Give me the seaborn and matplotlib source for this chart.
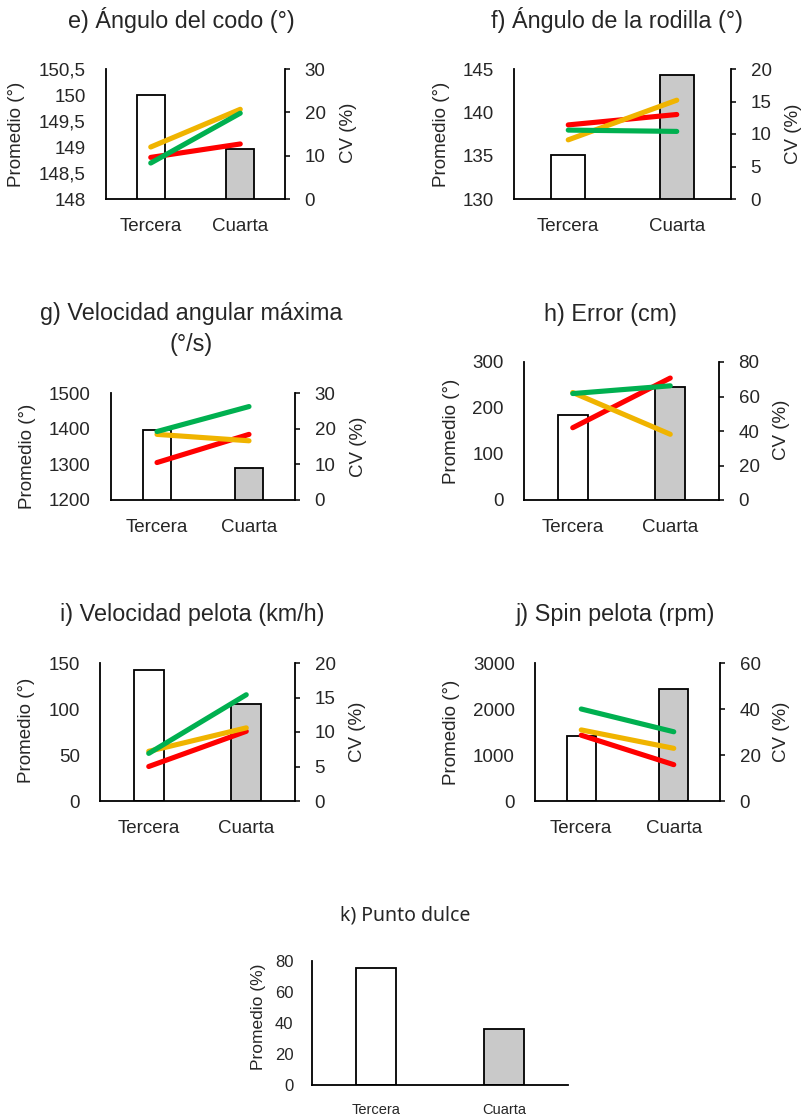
import numpy as np
import matplotlib
matplotlib.use("Agg")
import matplotlib.pyplot as plt
import matplotlib.ticker as mticker
import seaborn as sns

sns.set_style("white")
plt.rcParams['font.family'] = ['Liberation Sans', 'DejaVu Sans']

# ---------------- data ----------------
categories = ["Tercera", "Cuarta"]

titles = {
    "e": "e) Ángulo del codo (°)",
    "f": "f) Ángulo de la rodilla (°)",
    "g": "g) Velocidad angular máxima\n(°/s)",
    "h": "h) Error (cm)",
    "i": "i) Velocidad pelota (km/h)",
    "j": "j) Spin pelota (rpm)",
    "k": "k) Punto dulce",
}

mean_e = [150.0, 148.96]
cv_red_e = [9.6, 12.7]
cv_yellow_e = [12.0, 20.7]
cv_green_e = [8.3, 19.8]

mean_f = [135.1, 144.3]
cv_red_f = [11.4, 13.0]
cv_yellow_f = [9.1, 15.2]
cv_green_f = [10.6, 10.4]

mean_g = [1395, 1291]
cv_red_g = [10.5, 18.4]
cv_yellow_g = [18.4, 16.6]
cv_green_g = [19.2, 26.2]

mean_h = [185.7, 244.7]
cv_red_h = [41.9, 70.7]
cv_yellow_h = [62.3, 38.1]
cv_green_h = [61.7, 66.2]

mean_i = [142.4, 105.3]
cv_red_i = [5.0, 10.1]
cv_yellow_i = [7.2, 10.6]
cv_green_i = [6.9, 15.4]

mean_j = [1409, 2440]
cv_red_j = [28.6, 15.8]
cv_yellow_j = [30.9, 22.9]
cv_green_j = [40.0, 30.1]

mean_k = [75.3, 36.3]

left_ticks = {
    "e": [148, 148.5, 149, 149.5, 150, 150.5],
    "f": [130, 135, 140, 145],
    "g": [1200, 1300, 1400, 1500],
    "h": [0, 100, 200, 300],
    "i": [0, 50, 100, 150],
    "j": [0, 1000, 2000, 3000],
    "k": [0, 20, 40, 60, 80],
}
right_ticks = {
    "e": [0, 10, 20, 30],
    "f": [0, 5, 10, 15, 20],
    "g": [0, 10, 20, 30],
    "h": [0, 20, 40, 60, 80],
    "i": [0, 5, 10, 15, 20],
    "j": [0, 20, 40, 60],
}

# ---------------- layout (pixels) ----------------
W, H = 807, 1117
fig = plt.figure(figsize=(W / 100, H / 100), dpi=100)

def rect(x0, y0, x1, y1):
    return [x0 / W, 1 - y1 / H, (x1 - x0) / W, (y1 - y0) / H]

def fp(x, y):
    return x / W, 1 - y / H

bar_colors = ["#FFFFFF", "#C9C9C9"]
line_colors = {"red": "#FF0000", "yellow": "#F0B400", "green": "#00B050"}

def comma_fmt(v, pos):
    s = ("%g" % v)
    return s.replace(".", ",")

def bars(ax, means, lt, xfs=13.5, yfs=13.5, ypad=14.5, xpad=14):
    pos = np.arange(len(categories))
    sns.barplot(x=pos, y=means, hue=pos, palette=bar_colors, legend=False,
                edgecolor="black", linewidth=1.3, width=0.31, ax=ax,
                native_scale=True, zorder=2)
    ax.set_xlim(-0.5, len(categories) - 0.5)
    ax.set_ylim(lt[0], lt[-1])
    ax.set_yticks(lt)
    ax.yaxis.set_major_formatter(mticker.FuncFormatter(comma_fmt))
    ax.set_xticks(pos)
    ax.set_xticklabels(categories)
    for s in ["top", "right"]:
        ax.spines[s].set_visible(False)
    for s in ["left", "bottom"]:
        ax.spines[s].set_linewidth(1.3)
        ax.spines[s].set_color("black")
    ax.tick_params(axis="x", length=0, pad=xpad, labelsize=xfs)
    ax.tick_params(axis="y", length=0, pad=ypad, labelsize=yfs)
    ax.set_xlabel("")

def cv_lines(ax, red, yellow, green, rt):
    ax2 = ax.twinx()
    pos = np.arange(len(categories))
    for vals, c in [(red, "red"), (yellow, "yellow"), (green, "green")]:
        sns.lineplot(x=pos, y=vals, color=line_colors[c], linewidth=3.7,
                     solid_capstyle="round", ax=ax2)
    ax2.set_ylim(rt[0], rt[-1])
    ax2.set_yticks(rt)
    for s in ["top", "left", "bottom"]:
        ax2.spines[s].set_visible(False)
    ax2.spines["right"].set_linewidth(1.3)
    ax2.spines["right"].set_color("black")
    ax2.tick_params(axis="y", length=3.6, width=1.3, pad=10.5, labelsize=13.5,
                    direction="out")
    return ax2

panels = [
    ("e", (106, 69, 285, 199), mean_e, (cv_red_e, cv_yellow_e, cv_green_e),
     (16.5, 134), (348.5, 133), (181, 20)),
    ("f", (514, 69, 731, 199), mean_f, (cv_red_f, cv_yellow_f, cv_green_f),
     (441, 134), (794, 134), (617, 20)),
    ("g", (111, 393, 295, 500), mean_g, (cv_red_g, cv_yellow_g, cv_green_g),
     (27.5, 456), (358.5, 447), (191, 329)),
    ("h", (524, 362, 719, 500), mean_h, (cv_red_h, cv_yellow_h, cv_green_h),
     (451.5, 431), (782, 430), (611, 314)),
    ("i", (100, 663, 295, 801), mean_i, (cv_red_i, cv_yellow_i, cv_green_i),
     (26.7, 730), (357.5, 732), (192, 615)),
    ("j", (535, 663, 720, 801), mean_j, (cv_red_j, cv_yellow_j, cv_green_j),
     (452, 732), (782, 732), (615, 615)),
]

for key, r, means, cvs, lpos, rpos, tpos in panels:
    ax = fig.add_axes(rect(*r))
    bars(ax, means, left_ticks[key])
    ax.set_ylabel("Promedio (°)", fontsize=13.5, va="center", ha="center")
    ax.yaxis.set_label_coords(*fp(*lpos), transform=fig.transFigure)
    ax2 = cv_lines(ax, *cvs, right_ticks[key])
    ax2.set_ylabel("CV (%)", fontsize=13.5, va="center", ha="center")
    ax2.yaxis.set_label_coords(*fp(*rpos), transform=fig.transFigure)
    fig.text(*fp(*tpos), titles[key], fontsize=16.8, ha="center", va="center",
             linespacing=1.4)

# panel k
axk = fig.add_axes(rect(312, 961, 568, 1085))
bars(axk, mean_k, left_ticks["k"], xfs=10.5, yfs=12, ypad=13.5, xpad=13)
axk.set_ylabel("Promedio (%)", fontsize=12.5, va="center", ha="center")
axk.yaxis.set_label_coords(*fp(258.5, 1017), transform=fig.transFigure)
fig.text(*fp(405, 916), titles["k"], fontsize=14, ha="center", va="center",
         family=["Noto Sans", "DejaVu Sans"])

fig.savefig("out.png", dpi=100)
